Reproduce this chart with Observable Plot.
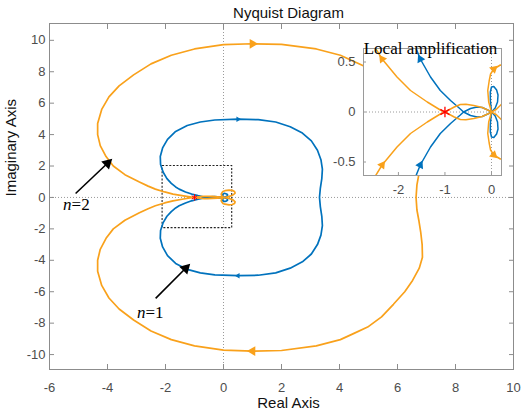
<!DOCTYPE html>
<html><head><meta charset="utf-8">
<script src="https://cdn.jsdelivr.net/npm/d3@7"></script>
<script src="https://cdn.jsdelivr.net/npm/@observablehq/plot@0.6"></script>
<style>
body{margin:0;background:#fff;}
#wrap{position:relative;width:526px;height:412px;overflow:hidden;}
#inset{position:absolute;left:330px;top:30px;}
</style></head><body><div id="wrap"><div id="main"></div><div id="inset"></div></div>
<script>
// ---------------- data ----------------
const xTicks = [-6,-4,-2,0,2,4,6,8,10];
const yTicks = [-10,-8,-6,-4,-2,0,2,4,6,8,10];
const insetXTicks = [-2,-1,0];
const insetYTicks = [-0.5,0,0.5];
const seriesNames = ["n=1","n=2"];
const seriesColors = ["#0072BD","#F9A11B"];

// upper half (Im >= 0 side) of each Nyquist curve, ordered from the origin outward;
// the lower half is its mirror image
const blueUpper = [
 [0,0],[-0.01,0.05],[-0.025,0.12],[-0.025,0.2],[0,0.25],[0.05,0.255],[0.11,0.22],[0.14,0.17],
 [0.13,0.1],[0.08,0.04],[0,0],[-0.08,-0.02],[-0.2,-0.045],[-0.31,-0.05],[-0.45,-0.035],[-0.6,0],
 [-0.67,0.03],[-0.88,0.115],[-1.1,0.215],[-1.31,0.35],[-1.53,0.53],[-1.65,0.67],[-1.8,0.9],
 [-1.95,1.2],[-2.08,1.6],[-2.17,2.1],[-2.18,2.6],[-2.1,3.15],[-1.93,3.7],[-1.65,4.2],[-1.25,4.58],
 [-0.8,4.8],[-0.3,4.93],[0.5,4.98],[1.2,4.95],[1.8,4.8],[2.3,4.5],[2.72,4.1],[3.03,3.6],[3.24,3.0],
 [3.36,2.4],[3.41,1.8],[3.39,1.2],[3.34,0.6],[3.31,0]
];
const orangeUpper = [
 [0,0],[-0.06,0.1],[-0.08,0.215],[-0.05,0.31],[-0.02,0.38],[0.05,0.43],[0.19,0.47],[0.3,0.45],
 [0.38,0.38],[0.4,0.28],[0.34,0.17],[0.22,0.08],[0.1,0.025],[0,0],[-0.06,-0.015],[-0.2,-0.045],
 [-0.38,-0.065],[-0.55,-0.077],[-0.67,-0.075],[-0.8,-0.05],[-0.9,-0.025],[-1.0,0],[-1.1,0.02],
 [-1.38,0.1],[-1.74,0.215],[-2.03,0.35],[-2.35,0.53],[-2.6,0.72],[-2.9,0.98],[-3.4,1.45],[-3.8,2.0],
 [-4.05,2.6],[-4.25,3.3],[-4.34,4.0],[-4.34,4.7],[-4.2,5.6],[-3.95,6.4],[-3.6,7.1],[-3.1,7.8],
 [-2.5,8.5],[-1.8,9.05],[-1.0,9.45],[0,9.72],[1.0,9.78],[2.0,9.74],[3.2,9.45],[4.03,9.05],[4.5,8.65],
 [4.97,8.25],[5.45,7.6],[5.86,6.8],[6.25,6.0],[6.52,5.28],[6.75,4.5],[6.86,3.8],[6.85,3.0],[6.8,2.2],
 [6.74,1.5],[6.67,0.8],[6.64,0]
];
const uppers = [blueUpper, orangeUpper];

const criticalPoint = [{x:-1, y:0}];
const zoomRegion = [{x1:-2.1, x2:0.3, y1:-1.95, y2:2.0}];
const labelArrows = [
 {n:"2", x1:-5.1, y1:0.25, x2:-3.9, y2:2.35, lx:-5.24, ly:-0.45},
 {n:"1", x1:-2.34, y1:-6.42, x2:-1.21, y2:-4.33, lx:-2.69, ly:-7.3}
];
// direction arrows: series, point index on the upper half, half (+1 upper / -1 lower), travel sense
const mainArrowSpecs = [
 {s:1,i:43,half:1,dir:1},{s:1,i:43,half:-1,dir:-1},
 {s:0,i:33,half:1,dir:1},{s:0,i:33,half:-1,dir:-1}
];
const insetArrowSpecs = [
 {s:1,i:26,half:1,dir:1},{s:1,i:26,half:-1,dir:-1},
 {s:1,i:5,half:1,dir:1},{s:1,i:5,half:-1,dir:1},
 {s:0,i:20,half:1,dir:1},{s:0,i:20,half:-1,dir:-1}
];

// ---------------- helpers ----------------
function closedCurve(upper){
  const up = upper.map(([x,y]) => ({x, y}));
  const low = upper.slice().reverse().map(([x,y]) => ({x, y: -y}));
  return up.concat(low);
}
const curves = uppers.map(closedCurve);
function arrows(specs, kx, ky){
  return specs.map(({s,i,half,dir}) => {
    const P = uppers[s];
    const dx = (P[i+1][0]-P[i-1][0])*dir;
    const dy = (P[i+1][1]-P[i-1][1])*dir*half;
    return {s, x:P[i][0], y:P[i][1]*half, angle: Math.atan2(dx*kx, dy*ky)*180/Math.PI};
  });
}
const sans = "Liberation Sans, Arial, Helvetica, sans-serif";
const serif = "Liberation Serif, Times New Roman, serif";
const fmt = d => String(d);

// ---------------- main plot ----------------
const W=526, H=412, ML=49, MR=13, MT=23, MB=43;
const xDom=[-6,10], yDom=[-10.95,11.07];
const kx=(W-ML-MR)/(xDom[1]-xDom[0]), ky=(H-MT-MB)/(yDom[1]-yDom[0]);
const mainArrows = arrows(mainArrowSpecs, kx, ky);
const headPts = labelArrows.map(d => {
  const sx=(d.x2-d.x1)*kx, sy=(d.y2-d.y1)*ky, L=Math.hypot(sx,sy);
  return {x: d.x2 - (sx/L)*4/kx, y: d.y2 - (sy/L)*4/ky, angle: Math.atan2(sx, sy)*180/Math.PI};
});

const main = Plot.plot({
  width:W, height:H, marginLeft:ML, marginRight:MR, marginTop:MT, marginBottom:MB,
  x:{domain:xDom}, y:{domain:yDom},
  style:{fontFamily:sans, fontSize:"13px", color:"#4d4d4d", background:"white", overflow:"visible"},
  marks:[
    Plot.ruleX([0], {stroke:"#9a9a9a", strokeDasharray:"1,2"}),
    Plot.ruleY([0], {stroke:"#9a9a9a", strokeDasharray:"1,2"}),
    Plot.rect(zoomRegion, {x1:"x1", x2:"x2", y1:"y1", y2:"y2", fill:"none", stroke:"#222", strokeWidth:1.1, strokeDasharray:"2,1.6"}),
    Plot.line(curves[0], {x:"x", y:"y", stroke:seriesColors[0], strokeWidth:1.7}),
    Plot.line(curves[1], {x:"x", y:"y", stroke:seriesColors[1], strokeWidth:1.7}),
    Plot.dot(criticalPoint, {x:"x", y:"y", symbol:"asterisk", r:3, stroke:"red", strokeWidth:1}),
    Plot.dot(mainArrows.filter(d=>d.s===1), {x:"x", y:"y", rotate:"angle", symbol:"triangle", r:3.6, fill:seriesColors[1], stroke:"none"}),
    Plot.dot(mainArrows.filter(d=>d.s===0), {x:"x", y:"y", rotate:"angle", symbol:"triangle", r:2, fill:seriesColors[0], stroke:"none"}),
    Plot.link(labelArrows, {x1:"x1", y1:"y1", x2:"x2", y2:"y2", stroke:"black", strokeWidth:1.6}),
    Plot.dot(headPts, {x:"x", y:"y", rotate:"angle", symbol:"triangle", r:4.2, fill:"black", stroke:"none"}),
    Plot.text(labelArrows, {x:"lx", y:"ly", text:() => "n", textAnchor:"end", fontFamily:serif, fontStyle:"italic", fontSize:17, fill:"black"}),
    Plot.text(labelArrows, {x:"lx", y:"ly", text:d => "=" + d.n, textAnchor:"start", fontFamily:serif, fontSize:17, fill:"black"}),
    Plot.frame({stroke:"#8c8c8c"}),
    Plot.axisX(xTicks, {anchor:"bottom", tickSize:-5, tickPadding:18, tickFormat:fmt, stroke:"#8c8c8c", label:null}),
    Plot.axisX(xTicks, {anchor:"top", tickSize:-5, tickFormat:() => "", stroke:"#8c8c8c", label:null}),
    Plot.axisY(yTicks, {anchor:"left", tickSize:-5, tickPadding:9, tickFormat:fmt, stroke:"#8c8c8c", label:null}),
    Plot.axisY(yTicks, {anchor:"right", tickSize:-5, tickFormat:() => "", stroke:"#8c8c8c", label:null}),
    Plot.text(["Nyquist Diagram"], {frameAnchor:"top", text:d=>d, lineAnchor:"bottom", dx:7, dy:-6, fontSize:15, fill:"#111"}),
    Plot.text(["Real Axis"], {frameAnchor:"bottom", text:d=>d, lineAnchor:"top", dx:7, dy:28, fontSize:15, fill:"#111"}),
    Plot.text(["Imaginary Axis"], {frameAnchor:"left", text:d=>d, lineAnchor:"middle", rotate:-90, dx:-38, fontSize:15, fill:"#111"})
  ]
});
document.getElementById("main").appendChild(main);

// ---------------- inset ----------------
const IW=180, IH=170, IL=33, IR=9, IT=18, IB=25;
const ixDom=[-2.75,0.215], iyDom=[-0.635,0.635];
const ikx=(IW-IL-IR)/(ixDom[1]-ixDom[0]), iky=(IH-IT-IB)/(iyDom[1]-iyDom[0]);
const insetArrows = arrows(insetArrowSpecs, ikx, iky);
const inset = Plot.plot({
  width:IW, height:IH, marginLeft:IL, marginRight:IR, marginTop:IT, marginBottom:IB,
  x:{domain:ixDom}, y:{domain:iyDom},
  style:{fontFamily:sans, fontSize:"13px", color:"#4d4d4d", background:"none", overflow:"visible"},
  marks:[
    Plot.frame({fill:"white", stroke:"none"}),
    Plot.ruleX([0], {stroke:"#9a9a9a", strokeDasharray:"1,2"}),
    Plot.ruleY([0], {stroke:"#9a9a9a", strokeDasharray:"1,2"}),
    Plot.line(curves[0], {x:"x", y:"y", stroke:seriesColors[0], strokeWidth:1.5, clip:true}),
    Plot.line(curves[1], {x:"x", y:"y", stroke:seriesColors[1], strokeWidth:1.5, clip:true}),
    Plot.dot(insetArrows.filter(d=>d.s===0), {x:"x", y:"y", rotate:"angle", symbol:"triangle", r:3.2, fill:seriesColors[0], stroke:"none", clip:true}),
    Plot.dot(insetArrows.filter(d=>d.s===1), {x:"x", y:"y", rotate:"angle", symbol:"triangle", r:3.2, fill:seriesColors[1], stroke:"none", clip:true}),
    Plot.dot(criticalPoint, {x:"x", y:"y", symbol:"asterisk", r:5, stroke:"red", strokeWidth:1.3}),
    Plot.frame({stroke:"#9a9a9a"}),
    Plot.axisX(insetXTicks, {anchor:"bottom", tickSize:-3, tickPadding:12, tickFormat:fmt, stroke:"#9a9a9a", label:null}),
    Plot.axisY(insetYTicks, {anchor:"left", tickSize:-3, tickPadding:11, tickFormat:fmt, stroke:"#9a9a9a", label:null}),
    Plot.text(["Local amplification"], {frameAnchor:"top", text:d=>d, lineAnchor:"bottom", dx:-2, dy:5, fontFamily:serif, fontSize:17, fill:"black"})
  ]
});
document.getElementById("inset").appendChild(inset);
</script></body></html>
